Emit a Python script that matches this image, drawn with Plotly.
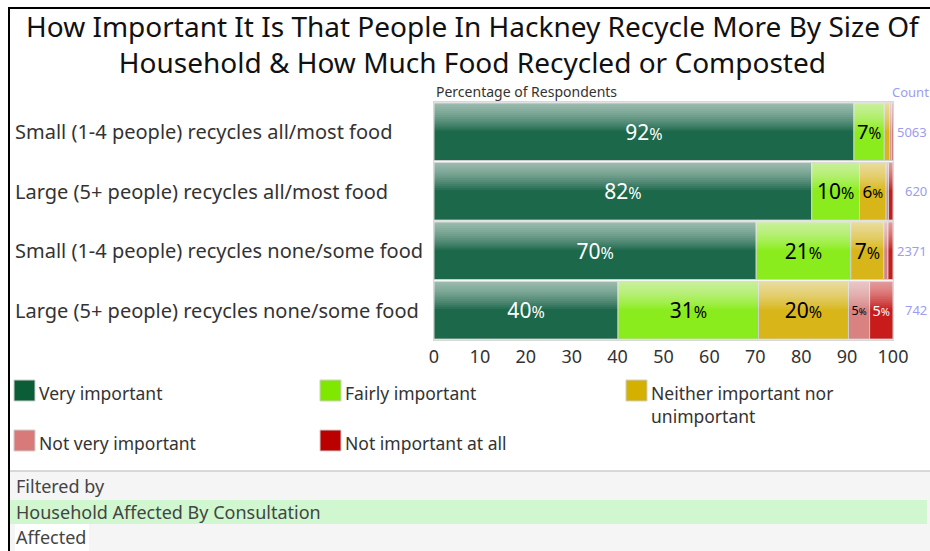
import plotly.graph_objects as go

categories = [
    "Small (1-4 people) recycles all/most food",
    "Large (5+ people) recycles all/most food",
    "Small (1-4 people) recycles none/some food",
    "Large (5+ people) recycles none/some food",
]
counts = [5063, 620, 2371, 742]
series_names = ["Very important", "Fairly important",
                "Neither important nor<br>unimportant",
                "Not very important", "Not important at all"]
very_important = [91.5, 82.3, 70.2, 40.1]
fairly_important = [6.6, 10.4, 20.6, 30.6]
neither = [1.2, 5.8, 7.2, 19.6]
not_very = [0.4, 0.5, 0.9, 4.6]
not_at_all = [0.3, 1.0, 1.1, 5.1]
x_ticks = [0, 10, 20, 30, 40, 50, 60, 70, 80, 90, 100]
title_text = ("How Important It Is That People In Hackney Recycle More By Size Of<br>"
              "Household & How Much Food Recycled or Composted")

series = [very_important, fairly_important, neither, not_very, not_at_all]
colors = ["#1c684b", "#8aec1c", "#d8b61a", "#d88282", "#c81c1c"]
legend_colors = ["#0b5d37", "#80e800", "#d4b000", "#d87a7a", "#bb0000"]
text_colors = ["white", "black", "black", "black", "white"]

FONT = "Noto Sans"
W, H = 930, 551
L, T = 434, 102
R, B = W - 893, H - 340
PW, PH = W - L - R, H - T - B


def px(x):  # page pixel -> paper x
    return (x - L) / PW


def py(y):  # page pixel -> paper y
    return (H - B - y) / PH


fig = go.Figure()

bases = []
run = [0.0] * len(categories)
for s in series:
    bases.append(list(run))
    run = [a + b for a, b in zip(run, s)]
totals = run

for name, vals, base, col in zip(series_names, series, bases, colors):
    fig.add_trace(go.Bar(
        y=categories, x=vals, base=base, orientation="h", name=name,
        marker=dict(color=col, line=dict(color="#d0d0d0", width=1)),
        hoverinfo="skip", showlegend=False,
    ))

# gloss overlay (light gradient on upper part of bars)
n_layers = 14
for k in range(1, n_layers + 1):
    fig.add_trace(go.Bar(
        y=categories, x=totals, base=[0] * len(categories), orientation="h",
        offset=-0.485, width=0.47 * k / n_layers,
        marker=dict(color="rgba(255,255,255,0.06)", line=dict(width=0)),
        showlegend=False, hoverinfo="skip",
    ))

for vals, base, tc in zip(series, bases, text_colors):
    txt = [f"{round(v)}<span style='font-size:16px'>%</span>" if v >= 4 else "" for v in vals]
    fig.add_trace(go.Bar(
        y=categories, x=vals, base=base, orientation="h",
        marker=dict(color="rgba(0,0,0,0)", line=dict(width=0)),
        text=txt, textposition="inside", insidetextanchor="middle",
        textangle=0, textfont=dict(family=FONT, size=21, color=tc),
        showlegend=False, hoverinfo="skip",
    ))


def text_ann(text, x, y, size, color="#333", xanchor="left", yref="paper", yanchor="middle",
             align="left"):
    return dict(text=text, x=x, y=y, xref="paper", yref=yref, showarrow=False,
                xanchor=xanchor, yanchor=yanchor, align=align,
                font=dict(family=FONT, size=size, color=color))


title = text_ann(title_text, px(473), py(43.5), 28, "#111", "center", align="center")
title.update(borderpad=0)

ann = [
    title,
    text_ann("Percentage of Respondents", px(434), py(92), 14, "#333"),
    text_ann("Count", px(931), py(92), 13, "#9c9cf0", "right"),
    text_ann("Filtered by", px(14), py(486), 18, "#444"),
    text_ann("Household Affected By Consultation", px(14), py(512), 18, "#444"),
    text_ann("Affected", px(14), py(537), 18, "#444"),
]
for c, n in zip(categories, counts):
    ann.append(text_ann(str(n), px(929), c, 13, "#9c9cf0", "right", "y"))
    ann.append(text_ann(c, px(13), c, 20, "#333", "left", "y"))

shapes = [
    dict(type="rect", xref="paper", yref="paper", x0=px(10), x1=px(930), y0=py(471), y1=py(551),
         fillcolor="#f5f5f5", line=dict(width=0), layer="below"),
    dict(type="line", xref="paper", yref="paper", x0=px(10), x1=px(930), y0=py(471), y1=py(471),
         line=dict(color="#cccccc", width=1.5)),
    dict(type="rect", xref="paper", yref="paper", x0=px(10), x1=px(927), y0=py(500), y1=py(524),
         fillcolor="#d0f7d0", line=dict(width=0), layer="below"),
    dict(type="rect", xref="paper", yref="paper", x0=px(15), x1=px(89), y0=py(524), y1=py(551),
         fillcolor="white", line=dict(width=0), layer="below"),
    dict(type="line", xref="paper", yref="paper", x0=px(8), x1=px(930), y0=py(8), y1=py(8),
         line=dict(color="black", width=2)),
    dict(type="line", xref="paper", yref="paper", x0=px(9), x1=px(9), y0=py(8), y1=py(551),
         line=dict(color="black", width=2)),
]

# legend (3 columns, 2 rows)
legend_cols = [14, 320, 626]
legend_rows = [380, 430]
for i, (name, col) in enumerate(zip(series_names, legend_colors)):
    lx = legend_cols[i % 3]
    ly = legend_rows[i // 3]
    shapes.append(dict(type="rect", xref="paper", yref="paper",
                       x0=px(lx), x1=px(lx + 21), y0=py(ly), y1=py(ly + 21),
                       fillcolor=col, line=dict(color="#cfcfcf", width=1)))
    ann.append(text_ann(name, px(lx + 23), py(ly - 1), 17.5, "#333", "left",
                        "paper", "top"))

fig.update_layout(
    width=W, height=H, margin=dict(l=L, r=R, t=T, b=B, autoexpand=False),
    barmode="overlay", bargap=0.03,
    paper_bgcolor="white", plot_bgcolor="white",
    font=dict(family=FONT, color="#333"),
    annotations=ann, shapes=shapes,
    showlegend=False,
    xaxis=dict(range=[0, 100], tickvals=x_ticks, showgrid=False, zeroline=False,
               showline=True, mirror=True, linecolor="#d8d8d8", linewidth=1,
               tickfont=dict(family=FONT, size=18, color="#333"), ticks=""),
    yaxis=dict(autorange="reversed", showticklabels=False, showgrid=False,
               showline=True, mirror=True, linecolor="#d8d8d8", ticks=""),
)

fig.write_html(
    "out.html",
    config={"displayModeBar": False},
    post_script="document.body.style.margin='0px';document.body.style.overflow='hidden';",
)
